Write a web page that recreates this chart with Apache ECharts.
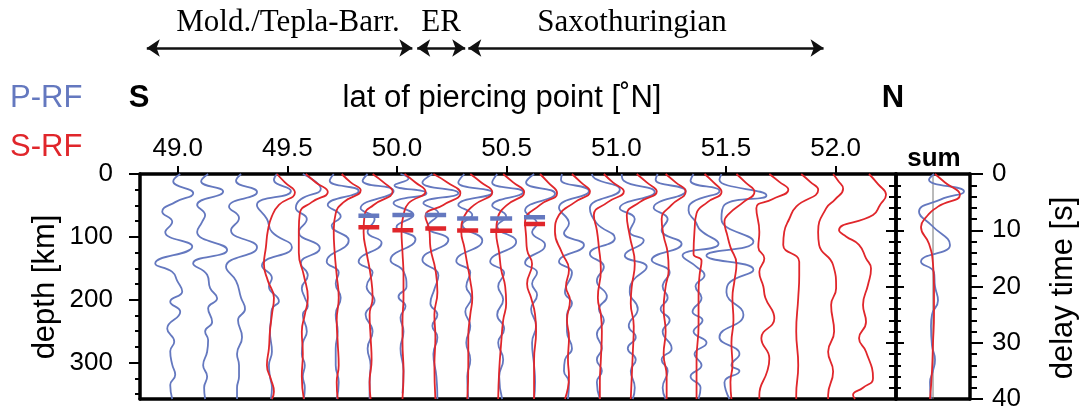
<!DOCTYPE html>
<html>
<head>
<meta charset="utf-8">
<script src="https://cdn.jsdelivr.net/npm/echarts@6/dist/echarts.min.js"></script>
<style>
html,body{margin:0;padding:0;background:#fff;}
#chart{width:1080px;height:414px;}
</style>
</head>
<body>
<div id="chart"></div>
<script>
// Receiver-function profile: P-RF (blue) and S-RF (red) stacks binned by piercing-point latitude.

// Latitude of each stacking bin (trace baseline), degrees N
const latBins = [48.975, 49.125, 49.275, 49.425, 49.575, 49.725, 49.875, 50.025, 50.175, 50.325,
                 50.475, 50.625, 50.775, 50.925, 51.075, 51.225, 51.375, 51.525, 51.675, 51.825,
                 51.975, 52.125];
const latTicks = [49.0, 49.5, 50.0, 50.5, 51.0, 51.5, 52.0];
const depthMajor = [0, 100, 200, 300];
const depthMinor = [25, 50, 75, 125, 150, 175, 225, 250, 275, 325, 350];

// P-RF traces for bins 0..17: [delay time s, amplitude]
const pTraces = [
  [[0,8],[1.3,1],[3.4,21],[5,3],[6.7,-10],[8.5,0],[10.3,-7],[12.9,20],[15.9,-17],[17.4,0],[19,5],[20.9,10],[22.7,-2],[24.5,8],[27.5,-5],[29.8,2],[31.5,-2],[33.9,0],[35.7,3],[37.5,-2],[40,0]],
  [[0,3],[1.3,-4],[3.1,18],[5.5,-8],[7.3,0],[8.5,-3],[10.3,-8],[13.5,22],[15.9,-12],[17.9,2],[20.3,5],[22.1,12],[23.9,3],[26.3,7],[28,0],[29.5,3],[31.6,2],[34,-2],[36,2],[38,-1],[40,0]],
  [[0,3],[1.2,-2],[3.2,19],[5.8,-9],[7.8,1],[10,-7],[13,19],[16.5,-12],[19,-2],[22,3],[24,7],[26,0],[29,4],[32,-1],[34,1],[36,1],[38,-1],[40,-1]],
  [[0,6],[1,3],[3,20],[5.5,-14],[8,-4],[10.3,1],[13,21],[16.3,-9],[18.5,1],[20,-2],[22.6,8],[24,1],[26,0],[28,-1],[31.6,1],[34,-2],[36,-1],[38,1],[40,0]],
  [[0,-1],[2.6,17],[4.5,-3],[6,-8],[8,3],[10.3,-5],[13.2,16],[15.9,-3],[18,4],[20.3,-2],[22,1],[23.5,4],[25,-1],[28,3],[30,-1],[32,-2],[34,1],[36,-1],[38,1],[40,0]],
  [[0,-3],[1.2,-7],[3,22],[5.5,-9],[7.5,4],[9.2,-5],[11.8,12],[15.6,-10],[17.5,2],[19.5,-1],[22,4],[25,-1],[28,1],[31,-1],[34,-1],[37,2],[40,0]],
  [[0,-2],[1.2,-7],[3,24],[6.1,-9],[8,5],[10.3,-2],[12.2,12],[15.6,-11],[17.5,3],[20,-3],[22.5,5],[25,-4],[28,3],[31,-2],[34,1],[37,0],[40,0]],
  [[0,-2],[0.8,6],[2,-8],[3.4,24],[5.2,-9],[7.3,11],[9.4,-6],[11.6,13],[15.3,-12],[17.3,1],[20,4],[21.8,-4],[23.5,3],[25.5,-2],[28,1],[31,-2],[35,1],[39,0]],
  [[0,-3],[1.5,-13],[3.4,23],[5.2,-12],[7,3],[9.4,-8],[11.7,13],[15.3,-13],[18,3],[20.5,-1],[23,-5],[25,2],[27,-3],[29,2],[32,-2],[36,1],[40,2]],
  [[0,-4],[1.5,-10],[3.3,24],[5.5,-10],[7.3,4],[9,-6],[11.8,14],[15.5,-12],[17.5,2],[20,-2],[22,3],[24.5,-3],[27,2],[30,-2],[33,2],[36,-1],[40,0]],
  [[0,-4],[1.5,-9],[3.2,22],[5.6,-9],[7.5,5],[9.3,-4],[12,15],[15.6,-11],[17.6,3],[20,-3],[22.3,2],[25,-4],[27.5,3],[30,-3],[33,2],[36,-2],[40,1]],
  [[0,0],[1.5,-8],[3.5,21],[6.5,-9],[8.8,3],[10.3,-2],[12.6,11],[15.8,-9],[17.5,3],[19.5,-2],[21.5,3],[24,-3],[27,2],[30,-2],[34,0],[37,1],[40,0]],
  [[0,-5],[1,-6],[3,22],[6,-8],[8.8,2],[10.5,-3],[12.6,17],[15.6,-8],[17.5,5],[21,-2],[23,5],[25,0],[28,0],[31,5],[33,-2],[35,-3],[37,2],[40,1]],
  [[0,-8],[0.8,-5],[2.8,20],[6.1,-10],[8.8,-3],[11.4,15],[14.2,-10],[16.5,4],[19,-3],[21.8,7],[24,-1],[26,4],[28.5,-3],[31,2],[33,-3],[35,2],[37,-3],[40,0]],
  [[0,-11],[1.2,-9],[3.2,22],[6.1,-13],[8,2],[10.3,-3],[11.8,11],[14.5,-8],[16.5,14],[19,0],[21,-3],[24,5],[27,-4],[29,3],[31,-5],[33,3],[35,-2],[38,2],[40,0]],
  [[0,-8],[1,-10],[3,20],[6,-12],[8,2],[10,-4],[12.4,16],[15.3,-14],[17.5,4],[20,-3],[22,2],[24,-5],[26,4],[28,-3],[31,6],[33,-4],[35,2],[38,-3],[40,0]],
  [[0,-5],[1.2,-8],[3,21],[5,-6],[6.5,-10],[8.5,-3],[10,2],[12.4,20],[14.5,-16],[16.5,-2],[18,6],[20,-3],[22,3],[24.5,-6],[26,4],[28,-5],[30,8],[32,-4],[34,3],[36,-8],[38,2],[40,0]],
  [[0,-10],[1,-12],[3.8,35],[5.5,-7],[8,-10],[12,22],[14.5,-25],[17,22],[19.5,-3],[21,-5],[25,12],[29,-12],[32,8],[34,0],[35,8],[37,-7],[40,-2]]
];

// S-RF traces for bins 3..21: [delay time s, amplitude]
const sTraces = [
  [[0,6],[1.5,14],[3.3,24],[5.5,8],[7.5,1],[10,-3],[13,-5],[16,-7],[19,-3],[22,3],[25,1],[28,-1],[31,-2],[34,-4],[36.5,0],[38.7,3],[40,1]],
  [[0,2],[1.5,12],[3.2,24],[5,8],[7,-4],[10,-5],[14,-5],[18,0],[22,4],[25,1],[28,-2],[32,-1],[36,-2],[40,0]],
  [[0,5],[1.5,14],[2.9,24],[5,7],[7,-1],[10,-3],[14,-2],[18,0],[22,2],[26,0],[30,1],[34,2],[37,0],[40,1]],
  [[0,3],[1.5,14],[3.1,23],[5.5,4],[7.3,-5],[10.3,-6],[14,-3],[18,1],[22,3],[25,0],[29,1],[33,2],[37,0],[40,1]],
  [[0,2],[1.5,13],[3.1,23],[5.2,6],[7.3,1],[10,-1],[14,0],[18,1],[22,1],[26,0],[30,0],[35,1],[40,0]],
  [[0,-2],[1.5,12],[3.4,25],[5.5,8],[7.5,-10],[10,-6],[13,-5],[17,0],[21,2],[25,-1],[29,0],[34,-1],[40,0]],
  [[0,2],[1.5,13],[3.2,24],[5.5,6],[7.5,-4],[10.3,-7],[13,-4],[16,-1],[19,2],[22,4],[25,2],[29,0],[34,0],[40,-1]],
  [[0,2],[1.5,12],[3.2,23],[5.5,6],[7.5,-3],[10.3,-5],[14,-2],[17,0],[20,4],[23,5],[26,2],[30,0],[35,-2],[40,-3]],
  [[0,6],[1.5,14],[3.4,23],[5.5,6],[8.5,-9],[11,-8],[13.5,-7],[16,-2],[19.5,-7],[22,-3],[25,1],[28,2],[33,0],[40,0]],
  [[0,5],[1.5,14],[3.1,23],[5,8],[7.3,-8],[10.3,-12],[14,-5],[17,2],[20,-1],[22.5,3],[26,0],[29,2],[33,1],[36,2],[40,-2]],
  [[0,4],[1.5,13],[3.1,24],[5,8],[7.3,-6],[10,-3],[13,-1],[17,1],[22,-2],[25,1],[28,2],[33,1],[37,0],[40,0]],
  [[0,4],[1.5,14],[3.1,24],[5,7],[7.3,-6],[11,-3],[16,2],[20,-1],[23,-2],[27,1],[32,0],[36,-1],[40,-2]],
  [[0,0],[1.5,10],[3.1,20],[5.5,6],[8,-4],[11,-2],[14,2],[17,3],[20,0],[24,-2],[28,0],[32,-2],[36,1],[40,1]],
  [[0,6],[1.5,15],[3.2,23],[5,9],[7,-2],[10,-4],[14.2,-5],[15.4,3],[18,1],[21.3,0],[27,0],[33,-2],[40,-2]],
  [[0,5],[1.5,14],[3.2,23],[5,12],[7,-2],[8.5,-7],[11,-4],[13,-1],[16,5],[19,3],[22,1],[26,2],[30,0],[34,1],[37,-1],[40,0]],
  [[0,5],[1.4,15],[2.8,24],[4.5,8],[6.1,-8],[10.3,-5],[13,-6],[15,0],[17.4,-5],[20,-1],[22,1],[25.7,10],[29.2,-3],[32.8,5],[35,3],[39.3,-5],[40,-5]],
  [[0,4],[1.4,13],[2.8,21],[5.8,-1],[8,-8],[10.3,-13],[12.6,-14],[15.6,2],[18,2],[22,1],[28,-1],[34,1],[39.3,-1],[40,-1]],
  [[0,3],[1.2,8],[2.6,13],[4.5,5],[6.1,-4],[10.3,-12],[12.6,-11],[16.2,3],[20.3,6],[23.3,1],[28,4],[31.6,-2],[35.1,3],[39.3,-2],[40,-2]],
  [[0,6],[1.8,15],[3.7,23],[5.5,17],[7.3,10],[10,-24],[11.1,-17],[12.6,-4],[15,3],[16.8,8],[19.7,5],[23.3,0],[26.3,3],[29.2,-4],[31.6,3],[36.3,10],[38,0],[39.3,-10],[40,-8]]
];
const sFirstBin = 3;

// Stacked sums of all bins
const pSum = [[0,1],[1,-4],[3.1,31],[4.5,8],[6.7,-14],[9.2,-1],[12.6,17],[15.6,-12],[17.5,1],[20,2],[22.5,5],[25,-1],[27,-2],[30.5,-1],[33,2],[35,0],[37,-3],[40,-2]];
const sSum = [[0,2],[1.5,12],[3.7,27],[5.8,5],[7.9,-8],[9.4,-12],[12.4,-4],[16,0],[20,1],[25,1],[30,0],[35,-1],[40,-3]];

// Marked conversions: latitude span and delay time of each dash
const dashStart = [49.824, 49.979, 50.129, 50.274, 50.425, 50.579];
const dashEnd   = [49.919, 50.074, 50.224, 50.370, 50.525, 50.675];
const pDashTimes = [7.4, 7.3, 7.3, 7.9, 7.9, 7.7];
const sDashTimes = [9.45, 10.0, 9.7, 10.05, 10.1, 8.9];

// Tectonic units along the profile
const regionNames = ['Mold./Tepla-Barr.', 'ER', 'Saxothuringian'];
const regionStart = [48.859, 50.092, 50.325];
const regionEnd   = [50.070, 50.311, 51.945];

const BLUE = '#6478bf';
const RED = '#e0262b';
const LAT_MIN = 48.828, LAT_MAX = 52.2754;
const AMP = 1 / 219.3;          // amplitude unit -> degrees of latitude
const DEPTH_MAX = 358;
const SANS = 'Liberation Sans';
const SERIF = 'Liberation Serif';

const chart = echarts.init(document.getElementById('chart'), null, {renderer: 'canvas'});

const frameLine = {show: true, onZero: false, lineStyle: {color: '#000', width: 3.5}};
const tickStyle = {color: '#000', width: 2};

function trace(lat, pts, color, z) {
  return {
    type: 'line', xAxisIndex: 0, yAxisIndex: 2,
    data: pts.map(p => [lat + p[1] * AMP, p[0]]),
    smooth: 0.5, showSymbol: false, symbol: 'none', clip: true, silent: true,
    lineStyle: {color: color, width: 1.8}, z: z
  };
}

const series = [];
pTraces.forEach((pts, i) => series.push(trace(latBins[i], pts, BLUE, 2)));
sTraces.forEach((pts, j) => series.push(trace(latBins[j + sFirstBin], pts, RED, 3)));

dashStart.forEach((a, k) => {
  [[pDashTimes[k], BLUE], [sDashTimes[k], RED]].forEach(([t, c]) => {
    series.push({
      type: 'line', xAxisIndex: 0, yAxisIndex: 2,
      data: [[a, t], [dashEnd[k], t]],
      showSymbol: false, symbol: 'none', silent: true,
      lineStyle: {color: c, width: 4.5}, z: 4
    });
  });
});

// sum panel
series.push({
  type: 'line', xAxisIndex: 2, yAxisIndex: 3, data: [[0, 0], [0, 40]],
  showSymbol: false, symbol: 'none', silent: true, lineStyle: {color: '#777', width: 1}, z: 1
});
series.push({
  type: 'line', xAxisIndex: 2, yAxisIndex: 3, data: pSum.map(p => [p[1], p[0]]),
  smooth: 0.5, showSymbol: false, symbol: 'none', silent: true, clip: true,
  lineStyle: {color: BLUE, width: 1.8}, z: 2
});
series.push({
  type: 'line', xAxisIndex: 2, yAxisIndex: 3, data: sSum.map(p => [p[1], p[0]]),
  smooth: 0.5, showSymbol: false, symbol: 'none', silent: true, clip: true,
  lineStyle: {color: RED, width: 1.8}, z: 3
});

// region arrows
series.push({
  type: 'line', xAxisIndex: 4, yAxisIndex: 5, data: [], silent: true,
  markLine: {
    silent: true, animation: false,
    symbol: ['arrow', 'arrow'], symbolSize: 13,
    label: {show: false},
    lineStyle: {color: '#111', width: 2.5, type: 'solid'},
    data: regionStart.map((s, k) => [{coord: [s, 0.5]}, {coord: [regionEnd[k], 0.5]}])
  }
});

const regionLabelX = [288, 441, 632];
const graphic = [
  {type: 'text', x: 10, y: 98, style: {text: 'P-RF', fill: BLUE, font: '31px ' + SANS, textAlign: 'left', textVerticalAlign: 'middle'}},
  {type: 'text', x: 10, y: 147, style: {text: 'S-RF', fill: RED, font: '31px ' + SANS, textAlign: 'left', textVerticalAlign: 'middle'}},
  {type: 'text', x: 139, y: 98, style: {text: 'S', fill: '#000', font: 'bold 31px ' + SANS, textAlign: 'center', textVerticalAlign: 'middle'}},
  {type: 'text', x: 893, y: 98, style: {text: 'N', fill: '#000', font: 'bold 31px ' + SANS, textAlign: 'center', textVerticalAlign: 'middle'}},
  {type: 'text', x: 502, y: 98, style: {text: 'lat of piercing point [˚N]', fill: '#000', font: '31px ' + SANS, textAlign: 'center', textVerticalAlign: 'middle'}},
  {type: 'text', x: 934, y: 159, style: {text: 'sum', fill: '#000', font: 'bold 26px ' + SANS, textAlign: 'center', textVerticalAlign: 'middle'}},
  {type: 'text', x: 45, y: 287, rotation: Math.PI / 2, style: {text: 'depth [km]', fill: '#000', font: '31px ' + SANS, textAlign: 'center', textVerticalAlign: 'middle'}},
  {type: 'text', x: 1063, y: 288, rotation: Math.PI / 2, style: {text: 'delay time [s]', fill: '#000', font: '31px ' + SANS, textAlign: 'center', textVerticalAlign: 'middle'}}
];
regionNames.forEach((n, k) => graphic.push({
  type: 'text', x: regionLabelX[k], y: 23,
  style: {text: n, fill: '#000', font: '31px ' + SERIF, textAlign: 'center', textVerticalAlign: 'middle'}
}));

const option = {
  animation: false,
  backgroundColor: '#fff',
  textStyle: {fontFamily: SANS},
  grid: [
    {left: 140, top: 174, width: 756, height: 225, containLabel: false},
    {left: 896, top: 174, width: 74, height: 225, containLabel: false},
    {left: 140, top: 40, width: 756, height: 16, containLabel: false}
  ],
  xAxis: [
    {gridIndex: 0, type: 'value', position: 'top', min: LAT_MIN, max: LAT_MAX,
     axisLine: frameLine,
     axisTick: {show: true, inside: false, length: 8, lineStyle: tickStyle, customValues: latTicks},
     axisLabel: {show: true, customValues: latTicks, formatter: v => v.toFixed(1), fontSize: 26, color: '#000', margin: 12, fontFamily: SANS},
     splitLine: {show: false}},
    {gridIndex: 0, type: 'value', position: 'bottom', min: LAT_MIN, max: LAT_MAX,
     axisLine: frameLine, axisTick: {show: false}, axisLabel: {show: false}, splitLine: {show: false}},
    {gridIndex: 1, type: 'value', position: 'top', min: -37, max: 37,
     axisLine: frameLine, axisTick: {show: false}, axisLabel: {show: false}, splitLine: {show: false}},
    {gridIndex: 1, type: 'value', position: 'bottom', min: -37, max: 37,
     axisLine: frameLine, axisTick: {show: false}, axisLabel: {show: false}, splitLine: {show: false}},
    {gridIndex: 2, type: 'value', min: LAT_MIN, max: LAT_MAX, show: false}
  ],
  yAxis: [
    {gridIndex: 0, type: 'value', position: 'left', min: 0, max: DEPTH_MAX, inverse: true,
     axisLine: frameLine,
     axisTick: {show: true, length: 11, lineStyle: tickStyle, customValues: depthMajor},
     axisLabel: {show: true, customValues: depthMajor, fontSize: 26, color: '#000', margin: 27, fontFamily: SANS},
     splitLine: {show: false}},
    {gridIndex: 0, type: 'value', position: 'left', offset: 0, min: 0, max: DEPTH_MAX, inverse: true,
     axisLine: {show: false},
     axisTick: {show: true, length: 5, lineStyle: tickStyle, customValues: depthMinor},
     axisLabel: {show: false}, splitLine: {show: false}},
    {gridIndex: 0, type: 'value', position: 'right', min: 0, max: 40, interval: 10, inverse: true,
     axisLine: frameLine,
     axisTick: {show: true, inside: true, length: 10, lineStyle: tickStyle},
     minorTick: {show: true, splitNumber: 5, length: 7, lineStyle: tickStyle},
     axisLabel: {show: false}, splitLine: {show: false}, minorSplitLine: {show: false}},
    {gridIndex: 1, type: 'value', position: 'left', min: 0, max: 40, interval: 10, inverse: true,
     axisLine: frameLine,
     axisTick: {show: true, inside: true, length: 8, lineStyle: tickStyle},
     minorTick: {show: true, splitNumber: 5, length: 5, lineStyle: tickStyle},
     axisLabel: {show: false}, splitLine: {show: false}, minorSplitLine: {show: false}},
    {gridIndex: 1, type: 'value', position: 'right', min: 0, max: 40, interval: 10, inverse: true,
     axisLine: frameLine,
     axisTick: {show: true, inside: false, length: 13, lineStyle: tickStyle},
     minorTick: {show: true, splitNumber: 5, length: 7, lineStyle: tickStyle},
     axisLabel: {show: true, fontSize: 26, color: '#000', margin: 22, fontFamily: SANS},
     splitLine: {show: false}, minorSplitLine: {show: false}},
    {gridIndex: 2, type: 'value', min: 0, max: 1, show: false}
  ],
  series: series,
  graphic: graphic
};

chart.setOption(option);
</script>
</body>
</html>
